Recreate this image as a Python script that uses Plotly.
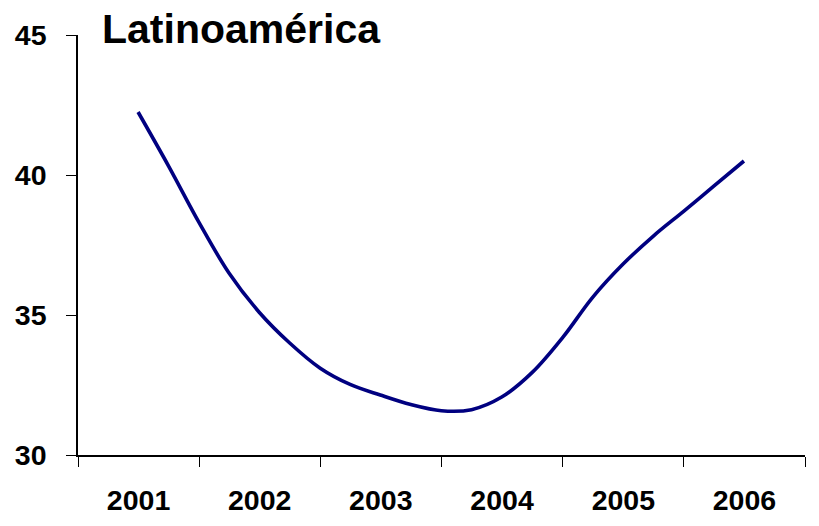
import plotly.graph_objects as go

# Quarterly observations, mid-2001 through mid-2006
quarters = [
    "2001-07-01", "2001-10-01", "2002-01-01", "2002-04-01", "2002-07-01",
    "2002-10-01", "2003-01-01", "2003-04-01", "2003-07-01", "2003-10-01",
    "2004-01-01", "2004-04-01", "2004-07-01", "2004-10-01", "2005-01-01",
    "2005-04-01", "2005-07-01", "2005-10-01", "2006-01-01", "2006-04-01",
    "2006-07-01",
]
values = [
    42.25, 40.32, 38.30, 36.50, 35.10,
    34.00, 33.10, 32.52, 32.14, 31.80,
    31.58, 31.62, 32.07, 32.95, 34.20,
    35.63, 36.81, 37.82, 38.71, 39.60,
    40.50,
]
y_ticks = [30, 35, 40, 45]
title_text = "Latinoamérica"

FONT = "Liberation Sans, Arial, sans-serif"

fig = go.Figure()
fig.add_trace(go.Scatter(
    x=quarters,
    y=values,
    mode="lines",
    line=dict(color="#000080", width=3.6, shape="spline", smoothing=1.0),
    hoverinfo="skip",
    showlegend=False,
))

fig.update_layout(
    width=819,
    height=526,
    margin=dict(l=78, r=14, t=35, b=71, autoexpand=False),
    paper_bgcolor="white",
    plot_bgcolor="white",
    font=dict(family=FONT, color="black"),
    xaxis=dict(
        type="date",
        range=["2001-01-01", "2007-01-01"],
        dtick="M12",
        tick0="2001-01-01",
        tickformat="%Y",
        ticklabelmode="period",
        ticks="outside",
        ticklen=10,
        tickwidth=1.3,
        tickcolor="black",
        showline=True,
        linecolor="black",
        linewidth=1.5,
        showgrid=False,
        zeroline=False,
        automargin=False,
        tickfont=dict(family=FONT, size=28.5, weight="bold", color="black"),
        ticklabelstandoff=9,
    ),
    yaxis=dict(
        range=[30, 45],
        tickvals=y_ticks,
        ticks="outside",
        ticklen=10,
        tickwidth=1.3,
        tickcolor="black",
        showline=True,
        linecolor="black",
        linewidth=1.5,
        showgrid=False,
        zeroline=False,
        automargin=False,
        tickfont=dict(family=FONT, size=28.5, weight="bold", color="black"),
        ticklabelstandoff=14,
    ),
    annotations=[dict(
        text=title_text,
        xref="paper", yref="paper",
        x=(100 - 78) / 727, y=1 + (35 - 4) / 420,
        xanchor="left", yanchor="top",
        showarrow=False,
        font=dict(family=FONT, size=41, weight="bold", color="black"),
    )],
)

fig.write_html("out.html")
